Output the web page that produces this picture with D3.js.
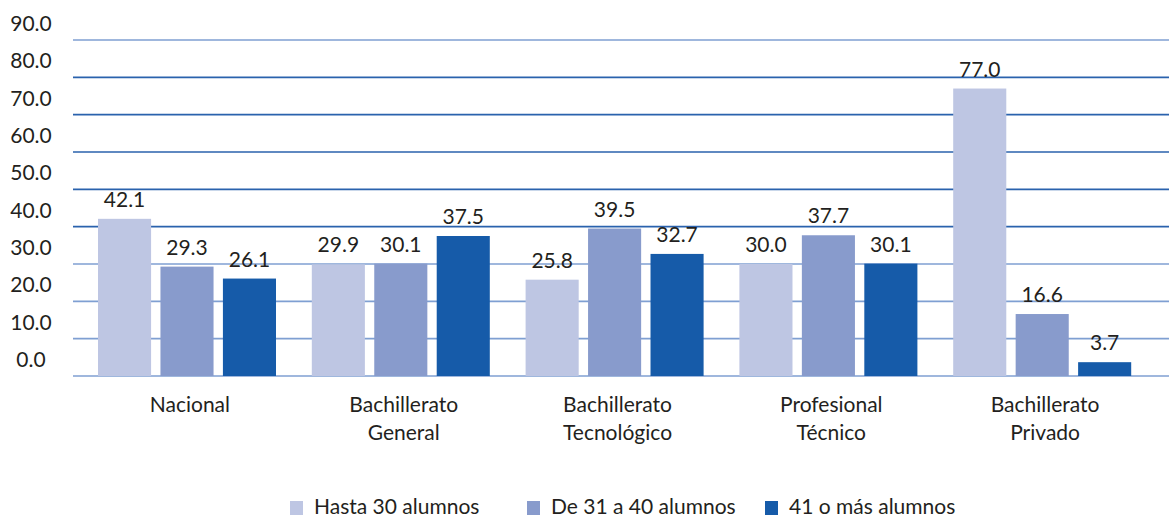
<!DOCTYPE html>
<html><head><meta charset="utf-8">
<script src="https://cdn.jsdelivr.net/npm/d3@7"></script>
<style>body{margin:0;background:#fff}svg{display:block}text{font-family:Lato,"Open Sans",sans-serif;fill:#231f20}</style>
</head><body><svg id="c" width="1169" height="519"></svg>
<script>
const categories = [["Nacional"],["Bachillerato","General"],["Bachillerato","Tecnológico"],["Profesional","Técnico"],["Bachillerato","Privado"]];
const seriesNames = ["Hasta 30 alumnos","De 31 a 40 alumnos","41 o más alumnos"];
const hasta30 = [42.1,29.9,25.8,30.0,77.0];
const de31a40 = [29.3,30.1,39.5,37.7,16.6];
const masDe41 = [26.1,37.5,32.7,30.1,3.7];
const yTicks = [0,10,20,30,40,50,60,70,80,90];
const colors = ["#bec6e3","#889bcc","#165ba9"];

const series = [hasta30,de31a40,masDe41];
const svg = d3.select("#c");
const y = d3.scaleLinear().domain([0,90]).range([376,40]);
const catKeys = categories.map((c,i)=>i);
const x0 = d3.scaleBand().domain(catKeys).range([80,1149]).padding(0);
const x1 = d3.scaleBand().domain([0,1,2]).range([18,196]).paddingInner(0.15);

// gridlines
svg.append("g").selectAll("line").data(yTicks).join("line")
  .attr("x1",73).attr("x2",1169)
  .attr("y1",d=>y(d)).attr("y2",d=>y(d))
  .attr("stroke",(d,i)=> (d===0||d===30||d===90||d===10||d===20)?"#7f9fd2":"#2a62ad")
  .attr("stroke-width",1.6);

// y labels
svg.append("g").selectAll("text").data(yTicks).join("text")
  .attr("x",31).attr("y",d=>y(d)-9)
  .attr("text-anchor","middle").attr("font-size",21)
  .text(d=>d3.format(".1f")(d));

// bars
const g = svg.append("g");
series.forEach((vals,si)=>{
  g.append("g").selectAll("rect").data(vals).join("rect")
    .attr("x",(d,i)=>x0(i)+x1(si))
    .attr("width",x1.bandwidth())
    .attr("y",d=>y(d))
    .attr("height",d=>y(0)-y(d))
    .attr("fill",colors[si]);
  g.append("g").selectAll("text").data(vals).join("text")
    .attr("x",(d,i)=>x0(i)+x1(si)+x1.bandwidth()/2)
    .attr("y",d=>y(d)-12)
    .attr("text-anchor","middle").attr("font-size",21)
    .text(d=>d3.format(".1f")(d));
});

// category labels
const cl = svg.append("g").selectAll("text").data(categories).join("text")
  .attr("text-anchor","middle").attr("font-size",21)
  .attr("transform",(d,i)=>`translate(${x0(i)+x0.bandwidth()/2+3},0)`);
cl.selectAll("tspan").data(d=>d).join("tspan")
  .attr("x",0).attr("y",(d,j)=>412+j*28).text(d=>d);

// legend
const legX = [290,527,765];
const lg = svg.append("g").selectAll("g").data(seriesNames).join("g")
  .attr("transform",(d,i)=>`translate(${legX[i]},0)`);
lg.append("rect").attr("x",0).attr("y",501).attr("width",13).attr("height",14).attr("fill",(d,i)=>colors[i]);
lg.append("text").attr("x",24).attr("y",514).attr("font-size",21).text(d=>d);
</script></body></html>
